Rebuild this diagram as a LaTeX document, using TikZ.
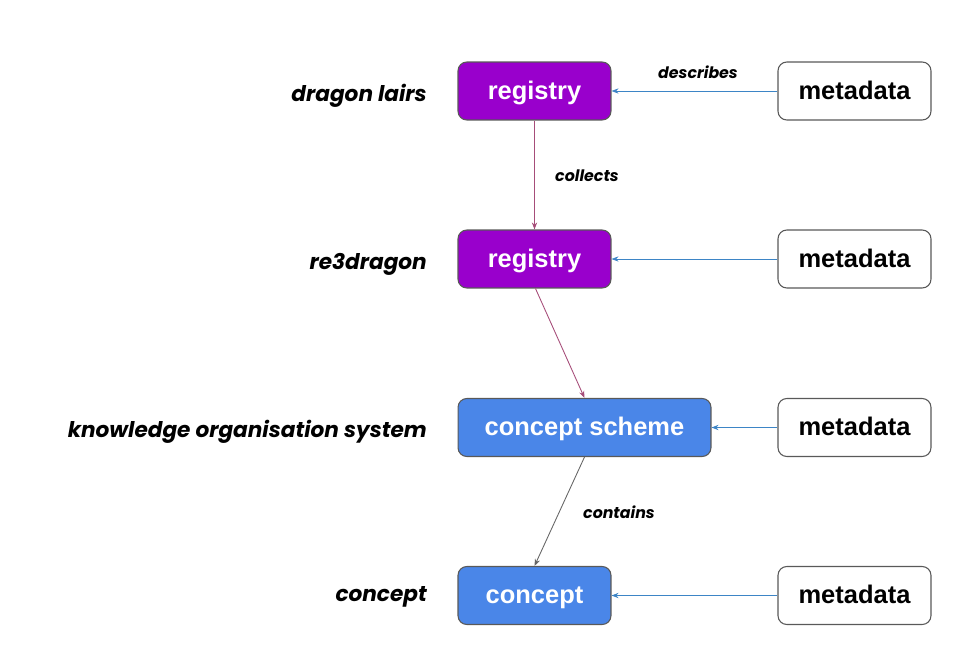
\documentclass[tikz,border=0pt]{standalone}
\usepackage{fontspec}
\setmainfont{Poppins}
\newfontfamily\nodefont{Liberation Sans}
\usetikzlibrary{arrows.meta}
\definecolor{regpurple}{HTML}{9900CC}
\definecolor{kosblue}{HTML}{4A86E8}
\definecolor{linkpurple}{HTML}{A64D79}
\definecolor{linkblue}{HTML}{3D85C6}
\definecolor{linkgray}{HTML}{666666}
\definecolor{edgegray}{HTML}{595959}
\tikzset{
  boxbase/.style={draw=edgegray, line width=0.6pt, rounded corners=5pt, minimum height=1.16cm, inner sep=0pt,
    text height=0.98em, text depth=0.02em,
    font=\nodefont\fontsize{14.5}{17}\selectfont\bfseries},
  regbox/.style={boxbase, fill=regpurple, text=white, minimum width=3.06cm},
  kosbox/.style={boxbase, fill=kosblue, text=white, minimum width=3.06cm},
  metabox/.style={boxbase, fill=white, text=black, minimum width=3.06cm},
  rowlabel/.style={anchor=base east, font=\fontsize{12.3}{15}\selectfont\bfseries\itshape},
  edgelabel/.style={font=\fontsize{9}{11}\selectfont\bfseries\itshape},
  tip/.style={-{Stealth[length=4pt,width=3pt]}, line width=0.5pt}
}
\begin{document}
\begin{tikzpicture}[x=0.02cm,y=-0.02cm]
\useasboundingbox (0,0) rectangle (958,663);
\node[regbox] (reg1) at (534.5,91) {registry};
\node[regbox] (reg2) at (534.5,259) {registry};
\node[kosbox, minimum width=5.06cm] (scheme) at (584.5,427.5) {concept scheme};
\node[kosbox] (concept) at (534.5,595.5) {concept};
\node[metabox] (m1) at (854.5,91) {metadata};
\node[metabox] (m2) at (854.5,259) {metadata};
\node[metabox] (m3) at (854.5,427.5) {metadata};
\node[metabox] (m4) at (854.5,595.5) {metadata};
\node[rowlabel] (l1) at (433,101) {dragon lairs};
\node[rowlabel] (l2) at (433,269) {re3dragon};
\node[rowlabel] (l3) at (433,437) {knowledge organisation system};
\node[rowlabel] (l4) at (433,601) {concept};
\draw[tip, linkblue] (m1) -- (reg1);
\draw[tip, linkblue] (m2) -- (reg2);
\draw[tip, linkblue] (m3) -- (scheme);
\draw[tip, linkblue] (m4) -- (concept);
\draw[tip, linkpurple] (reg1.south) -- (reg2.north);
\draw[tip, linkpurple] ([xshift=0.02cm]reg2.south) -- (scheme.north);
\draw[tip, linkgray] (scheme.south) -- (concept.north);
\node[edgelabel] (d) at (698,72) {describes};
\node[edgelabel] (c) at (587,176) {collects};
\node[edgelabel] (k) at (619,512) {contains};
\end{tikzpicture}
\end{document}
